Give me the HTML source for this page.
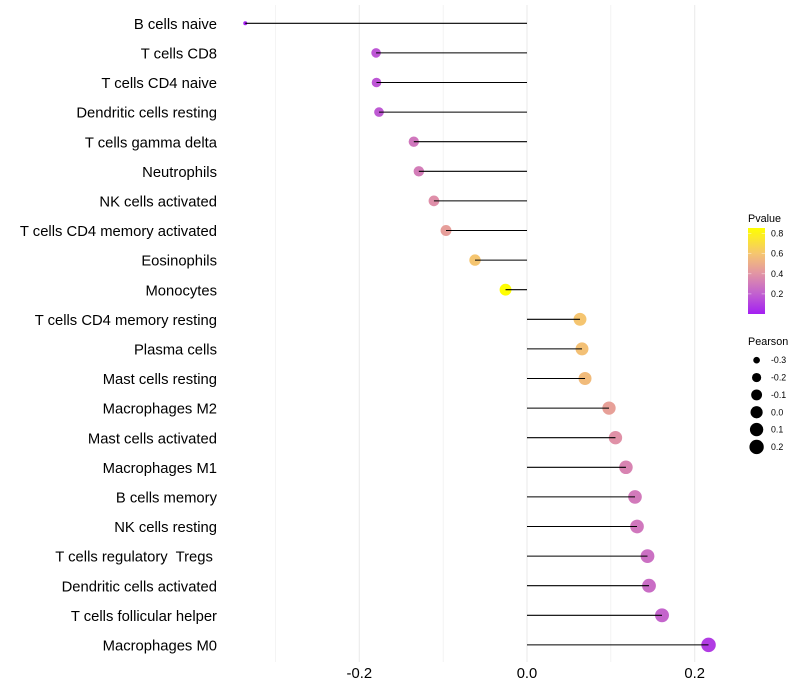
<!DOCTYPE html>
<html lang="en">
<head>
<meta charset="utf-8">
<title>Immune cell correlation lollipop chart</title>
<style>
html,body{margin:0;padding:0;background:#fff;}
svg{display:block;font-family:"Liberation Sans",Arial,sans-serif;}
</style>
</head>
<body>
<svg id="chart" xmlns="http://www.w3.org/2000/svg" width="800" height="700" viewBox="0 0 800 700">
  <defs>
    <linearGradient id="pvalue-gradient" x1="0" y1="1" x2="0" y2="0"></linearGradient>
  </defs>
  <rect x="0" y="0" width="800" height="700" fill="#ffffff"/>
  <g id="grid"></g>
  <g id="lines"></g>
  <g id="points"></g>
  <g id="ylabels"></g>
  <g id="xlabels"></g>
  <g id="legend-p">
    <text x="748" y="222" font-size="10.8" fill="#000">Pvalue</text>
    <rect x="748" y="228" width="17" height="86" fill="url(#pvalue-gradient)"/>
  </g>
  <g id="legend-s">
    <text x="748" y="345" font-size="10.8" fill="#000">Pearson</text>
  </g>
</svg>
<script>
const categories = ["B cells naive","T cells CD8","T cells CD4 naive","Dendritic cells resting","T cells gamma delta","Neutrophils","NK cells activated","T cells CD4 memory activated","Eosinophils","Monocytes","T cells CD4 memory resting","Plasma cells","Mast cells resting","Macrophages M2","Mast cells activated","Macrophages M1","B cells memory","NK cells resting","T cells regulatory  Tregs ","Dendritic cells activated","T cells follicular helper","Macrophages M0"];
const pearson = [-0.336,-0.180,-0.1795,-0.1765,-0.135,-0.129,-0.111,-0.0966,-0.062,-0.0256,0.0632,0.0656,0.0692,0.0978,0.1055,0.118,0.1288,0.1312,0.1437,0.1455,0.161,0.2165];
const pvalues = [0.004,0.17,0.17,0.18,0.29,0.31,0.38,0.44,0.60,0.85,0.60,0.58,0.56,0.45,0.39,0.34,0.30,0.29,0.26,0.25,0.22,0.09];
const xTicks = [-0.2,0.0,0.2];
const xMinorTicks = [-0.3,-0.1,0.1];
const pTicks = [0.8,0.6,0.4,0.2];
const sizeBreaks = [-0.3,-0.2,-0.1,0.0,0.1,0.2];

const svgNS = "http://www.w3.org/2000/svg";
const X0 = 527, XK = 838.5;
const Y0 = 23.3, YSTEP = 29.6;
const panelTop = 5, panelBottom = 662;
const x = v => X0 + v * XK;
const y = i => Y0 + i * YSTEP;
const pMin = 0.0, pMax = 0.855;
const pY = p => 314 - (p - pMin) / (pMax - pMin) * 86;
const colorStops = [[0,[164,31,242]],[0.2,[193,96,208]],[0.4,[226,148,165]],[0.6,[245,197,112]],[0.855,[255,255,0]]];
function color(p){
  for(let k=1;k<colorStops.length;k++){
    if(p<=colorStops[k][0]){
      const a=colorStops[k-1],b=colorStops[k];
      const t=(p-a[0])/(b[0]-a[0]);
      const c=a[1].map((v,j)=>Math.round(v+(b[1][j]-v)*t));
      return "rgb("+c.join(",")+")";
    }
  }
  return "rgb(255,255,0)";
}
const rMin = Math.min(...pearson), rMax = Math.max(...pearson);
function diameter(v){
  const t = Math.max(0,(v-rMin)/(rMax-rMin));
  return 4 + 10.5*Math.sqrt(t);
}
function fmt(v){ return v.toFixed(1); }
function el(tag, attrs, parent){
  const e = document.createElementNS(svgNS, tag);
  for(const k in attrs){ e.setAttribute(k, attrs[k]); }
  parent.appendChild(e);
  return e;
}

const grid = document.getElementById("grid");
xMinorTicks.forEach(v=>{
  const l = el("line",{x1:x(v),x2:x(v),y1:panelTop,y2:panelBottom,stroke:"#ebebeb","stroke-width":0.55},grid);
  
  
});
xTicks.forEach(v=>{
  const l = el("line",{x1:x(v),x2:x(v),y1:panelTop,y2:panelBottom,stroke:"#ebebeb","stroke-width":1.07},grid);
  
  
});

const linesG = document.getElementById("lines");
const pointsG = document.getElementById("points");
const yLabelsG = document.getElementById("ylabels");
const xLabelsG = document.getElementById("xlabels");

categories.forEach((name,i)=>{
  const t = el("text",{x:217,y:y(i)+5.6,"text-anchor":"end","font-size":14.8,fill:"#000"},yLabelsG);
  t.setAttribute('xml:space', 'preserve');
  t.style.whiteSpace = "pre";
  t.textContent = name;
  
  

  const c = el("circle",{cx:x(pearson[i]),cy:y(i),r:diameter(pearson[i])/2,fill:color(pvalues[i])},pointsG);
  
  

  const l = el("line",{x1:x(0),x2:x(pearson[i]),y1:y(i),y2:y(i),stroke:"#000","stroke-width":1.07},linesG);
  
  
});
// stems are painted over the points, as in the reference
document.getElementById("chart").insertBefore(pointsG, linesG);

xTicks.forEach(v=>{
  const t = el("text",{x:x(v),y:678,"text-anchor":"middle","font-size":14.8,fill:"#000"},xLabelsG);
  t.textContent = fmt(v);
  
  
});

const grad = document.getElementById("pvalue-gradient");
for(let k=0;k<=20;k++){
  const p = pMin + (pMax-pMin)*k/20;
  const s = el("stop",{offset:(k/20),"stop-color":color(p)},grad);
  
  
}

const legendP = document.getElementById("legend-p");
pTicks.forEach(p=>{
  const a = el("line",{x1:748,x2:751.4,y1:pY(p),y2:pY(p),stroke:"#fff","stroke-opacity":0.6,"stroke-width":0.7},legendP);
  
  
  const b = el("line",{x1:761.6,x2:765,y1:pY(p),y2:pY(p),stroke:"#fff","stroke-opacity":0.6,"stroke-width":0.7},legendP);
  
  
  const t = el("text",{x:771,y:pY(p)+3,"font-size":8.8,fill:"#000"},legendP);
  t.textContent = fmt(p);
  
  
});

const legendS = document.getElementById("legend-s");
sizeBreaks.forEach((v,k)=>{
  const cy = 360.2 + k*17.35;
  const c = el("circle",{cx:756.6,cy:cy,r:diameter(v)/2,fill:"#000"},legendS);
  
  
  const t = el("text",{x:771,y:cy+3,"font-size":8.8,fill:"#000"},legendS);
  t.textContent = fmt(v);
  
  
});
</script>
</body>
</html>
